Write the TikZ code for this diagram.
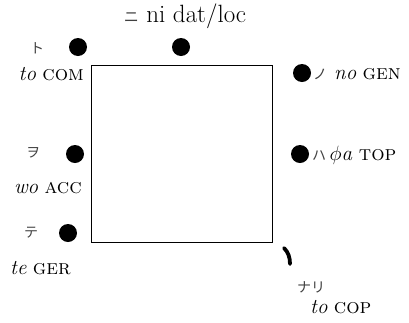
\documentclass[tikz,border=0pt]{standalone}
\usepackage{fontspec}
\newfontfamily\jp{Noto Sans CJK JP}
\begin{document}
\begin{tikzpicture}[x=1pt,y=-1pt,
  dot/.style={circle,fill=black,inner sep=0pt,minimum size=18pt},
  kana/.style={font=\jp\fontsize{14}{16}\selectfont,text=black!75,inner sep=0pt},
  gloss/.style={font=\fontsize{21}{24}\selectfont,inner sep=0pt}]
\useasboundingbox (0,0) rectangle (409,322);
\node[draw,line width=0.9pt,minimum width=181pt,minimum height=177pt,inner sep=0pt] (frame) at (182,154) {};
% dots round the frame
\node[dot] (dcom) at (78,47) {};
\node[dot] (dni) at (181,47) {};
\node[dot] (dno) at (302,73) {};
\node[dot] (dwo) at (75,154) {};
\node[dot] (dwa) at (300,154) {};
\node[dot] (dte) at (68,233) {};
\draw[line width=3.8pt,line cap=round] (284,248) .. controls (288,252) and (290,257) .. (290,264);
% labels
\node[gloss,font=\fontsize{25}{28}\selectfont] (lni) at (185,16) {{\jp\fontsize{15}{16}\selectfont\color{black!75}ニ} ni dat/loc};
\node[kana] (kto) at (37,48) {ト};
\node[gloss,anchor=east] (lcom) at (84,74) {\textit{to} \textsc{com}};
\node[gloss,anchor=west] (lno) at (313,74) {{\jp\fontsize{14}{16}\selectfont\color{black!75}ノ}\,\,\textit{no} \textsc{gen}};
\node[kana] (kwo) at (33,153) {ヲ};
\node[gloss,anchor=east] (lacc) at (82,188) {\textit{wo} \textsc{acc}};
\node[gloss,anchor=west] (lwa) at (312,155) {{\jp\fontsize{14}{16}\selectfont\color{black!75}ハ}\,\textit{$\phi$a} \textsc{top}};
\node[kana] (kte) at (31,233) {テ};
\node[gloss,anchor=west] (lger) at (10,268) {\textit{te} \textsc{ger}};
\node[kana] (knari) at (311,287) {ナリ};
\node[gloss,anchor=west] (lcop) at (310,307) {\textit{to} \textsc{cop}};
\end{tikzpicture}
\end{document}
